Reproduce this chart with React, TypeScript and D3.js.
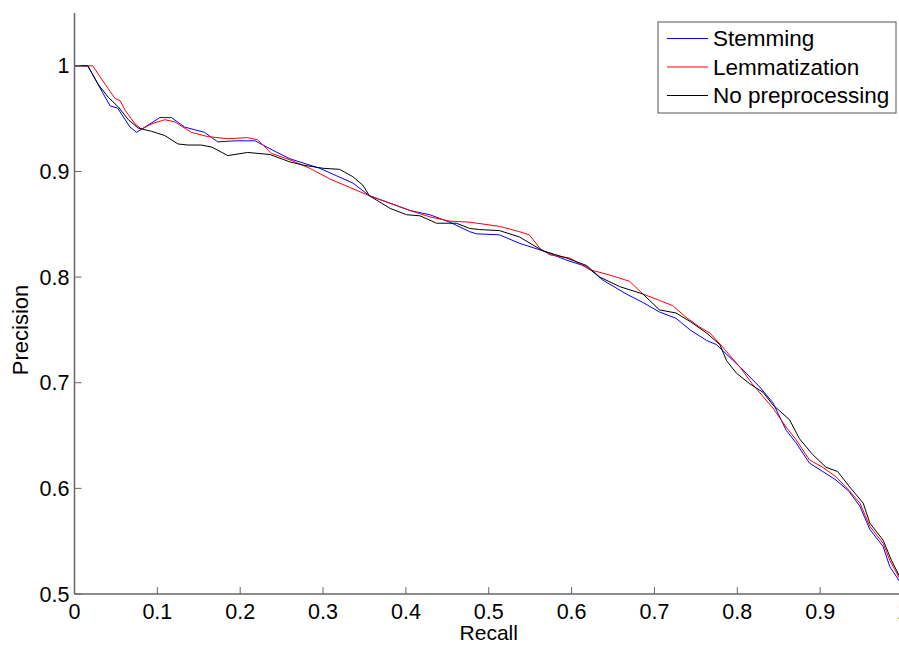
import React from 'react'
import * as d3 from 'd3'

const width = 899
const height = 645
const margin = { top: 13, right: -4, bottom: 51, left: 74.5 }

const xTicks = [0, 0.1, 0.2, 0.3, 0.4, 0.5, 0.6, 0.7, 0.8, 0.9, 1]
const yTicks = [0.5, 0.6, 0.7, 0.8, 0.9, 1]

// [recall, precision]
const stemming: [number, number][] = [
  [0, 1], [0.016, 1], [0.033, 0.976], [0.043, 0.962], [0.052, 0.96], [0.067, 0.942], [0.075, 0.937],
  [0.085, 0.942], [0.103, 0.951], [0.117, 0.951], [0.133, 0.942], [0.157, 0.937], [0.173, 0.928],
  [0.194, 0.929], [0.218, 0.929], [0.242, 0.919], [0.26, 0.912], [0.296, 0.903], [0.316, 0.896],
  [0.336, 0.889], [0.356, 0.877], [0.377, 0.871], [0.405, 0.863], [0.429, 0.859], [0.453, 0.852],
  [0.477, 0.843], [0.485, 0.841], [0.513, 0.84], [0.537, 0.832], [0.565, 0.825], [0.594, 0.816],
  [0.618, 0.81], [0.638, 0.797], [0.666, 0.784], [0.686, 0.776], [0.706, 0.767], [0.726, 0.761],
  [0.743, 0.75], [0.763, 0.74], [0.775, 0.736], [0.795, 0.721], [0.807, 0.712], [0.827, 0.696],
  [0.843, 0.681], [0.859, 0.655], [0.871, 0.643], [0.887, 0.624], [0.903, 0.616], [0.919, 0.608],
  [0.935, 0.597], [0.948, 0.583], [0.96, 0.561], [0.976, 0.545], [0.984, 0.526], [0.995, 0.513], [1, 0.508],
]

const lemmatization: [number, number][] = [
  [0, 1], [0.022, 1], [0.037, 0.9825], [0.049, 0.969], [0.055, 0.967], [0.061, 0.958], [0.073, 0.945],
  [0.081, 0.94], [0.093, 0.945], [0.109, 0.949], [0.121, 0.947], [0.141, 0.937], [0.161, 0.933],
  [0.185, 0.931], [0.209, 0.932], [0.221, 0.93], [0.238, 0.917], [0.26, 0.911], [0.284, 0.903],
  [0.308, 0.893], [0.332, 0.885], [0.356, 0.877], [0.381, 0.87], [0.405, 0.863], [0.429, 0.857],
  [0.453, 0.853], [0.477, 0.852], [0.513, 0.848], [0.537, 0.843], [0.549, 0.84], [0.562, 0.827],
  [0.574, 0.821], [0.598, 0.818], [0.622, 0.807], [0.646, 0.802], [0.67, 0.796], [0.686, 0.784],
  [0.706, 0.778], [0.722, 0.773], [0.738, 0.762], [0.754, 0.753], [0.767, 0.747], [0.782, 0.734],
  [0.803, 0.715], [0.818, 0.699], [0.831, 0.687], [0.843, 0.676], [0.859, 0.658], [0.871, 0.646],
  [0.887, 0.627], [0.903, 0.62], [0.919, 0.611], [0.935, 0.598], [0.948, 0.586], [0.96, 0.564],
  [0.976, 0.548], [0.984, 0.532], [0.995, 0.516], [1, 0.511],
]

const noPreprocessing: [number, number][] = [
  [0, 1], [0.016, 1], [0.029, 0.982], [0.041, 0.97], [0.053, 0.961], [0.065, 0.949], [0.077, 0.941],
  [0.093, 0.938], [0.109, 0.934], [0.125, 0.926], [0.137, 0.925], [0.153, 0.925], [0.166, 0.923],
  [0.185, 0.915], [0.209, 0.918], [0.236, 0.916], [0.26, 0.909], [0.276, 0.906], [0.3, 0.903],
  [0.32, 0.902], [0.336, 0.895], [0.348, 0.887], [0.356, 0.877], [0.381, 0.865], [0.401, 0.859],
  [0.417, 0.858], [0.437, 0.851], [0.461, 0.851], [0.477, 0.846], [0.489, 0.845], [0.513, 0.844],
  [0.537, 0.838], [0.565, 0.825], [0.594, 0.818], [0.618, 0.811], [0.634, 0.8], [0.658, 0.791],
  [0.686, 0.784], [0.706, 0.769], [0.726, 0.766], [0.743, 0.758], [0.763, 0.747], [0.779, 0.736],
  [0.787, 0.721], [0.799, 0.709], [0.815, 0.699], [0.831, 0.691], [0.843, 0.679], [0.863, 0.665],
  [0.875, 0.647], [0.891, 0.632], [0.907, 0.62], [0.921, 0.616], [0.935, 0.602], [0.952, 0.586],
  [0.96, 0.567], [0.976, 0.551], [0.986, 0.532], [0.995, 0.518], [1, 0.513],
]

const seriesNames = ['Stemming', 'Lemmatization', 'No preprocessing']
const seriesColors = ['#0000ff', '#ff0000', '#000000']
const seriesData = [stemming, lemmatization, noPreprocessing]

const font = '"Liberation Sans", Arial, sans-serif'

export default function App() {
  const innerW = width - margin.left - margin.right
  const innerH = height - margin.top - margin.bottom
  const x = d3.scaleLinear().domain([0, 1]).range([0, innerW])
  const y = d3.scaleLinear().domain([0.5, 1.05]).range([innerH, 0])
  const line = d3.line<[number, number]>().x(d => x(d[0])).y(d => y(d[1]))
  const axisColor = '#666666'

  return (
    <svg width={width} height={height} style={{ position: 'absolute', left: 0, top: 0, background: '#fff' }}
      fontFamily={font}>
      <rect width={width} height={height} fill="#fff" />
      <g transform={`translate(${margin.left},${margin.top})`}>
        {seriesData.map((s, i) => (
          <path key={seriesNames[i]} d={line(s) || ''} fill="none" stroke={seriesColors[i]} strokeWidth={1} />
        ))}
        <line x1={0} x2={0} y1={0} y2={innerH} stroke={axisColor} strokeWidth={1.5} />
        <line x1={0} x2={innerW} y1={innerH} y2={innerH} stroke={axisColor} strokeWidth={1.5} />
        {xTicks.map(t => (
          <g key={t} transform={`translate(${x(t)},${innerH})`}>
            <line y1={0} y2={-7} stroke={axisColor} />
            <text y={25} textAnchor="middle" fontSize={21.5} fill="#000">{t}</text>
          </g>
        ))}
        {yTicks.map(t => (
          <g key={t} transform={`translate(0,${y(t)})`}>
            <line x1={0} x2={7} stroke={axisColor} />
            <text x={-5} dy="0.35em" textAnchor="end" fontSize={21.5} fill="#000">{t}</text>
          </g>
        ))}
        <text x={innerW / 2} y={innerH + 46} textAnchor="middle" fontSize={21}>Recall</text>
        <text transform={`translate(${-47},${y(0.75)}) rotate(-90)`} textAnchor="middle" fontSize={22}>Precision</text>
      </g>
      <g transform="translate(658,22)">
        <rect width={238} height={91} fill="#fff" stroke="#555" strokeWidth={1} />
        {seriesNames.map((n, i) => (
          <g key={n} transform={`translate(0,${16.5 + i * 28.5})`}>
            <line x1={9} x2={50} y1={0} y2={0} stroke={seriesColors[i]} strokeWidth={1} />
            <text x={55} dy="0.35em" fontSize={22.5} fill="#000">{n}</text>
          </g>
        ))}
      </g>
    </svg>
  )
}
